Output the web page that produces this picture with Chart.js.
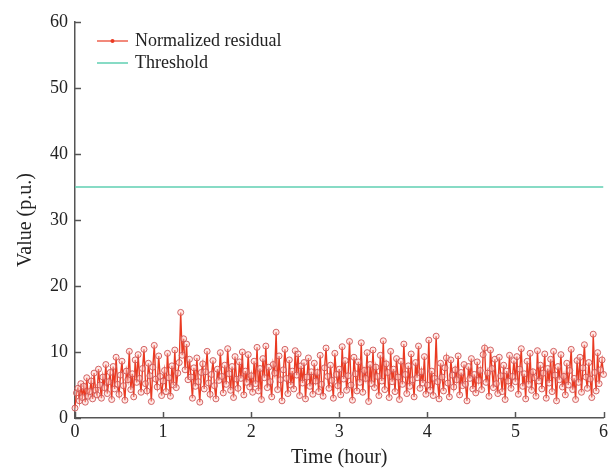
<!DOCTYPE html>
<html>
<head>
<meta charset="utf-8">
<script src="https://cdn.jsdelivr.net/npm/chart.js@4"></script>
<style>
  html, body { margin: 0; padding: 0; background: #fff; }
  #wrap { width: 611px; height: 471px; }
</style>
</head>
<body>
<div id="wrap"><canvas id="c" width="611" height="471"></canvas></div>
<script>
// Normalized residual, one sample per minute, split per hour
const residualH0 = [1.5, 3.8, 4.5, 2.6, 5.2, 3.1, 4.8, 2.4, 6.1, 3.3, 4.0, 5.6, 2.9, 6.8, 4.2, 3.5, 7.4, 5.0, 3.0, 6.2, 4.6, 8.1, 3.7, 5.5, 6.9, 2.8, 7.8, 4.4, 9.2, 5.1, 3.6, 6.5, 8.6, 4.9, 2.7, 7.1, 5.8, 10.1, 4.3, 6.7, 3.2, 8.8, 5.4, 9.6, 6.0, 3.9, 7.5, 10.4, 5.2, 4.1, 8.3, 6.4, 2.5, 7.7, 11.0, 5.9, 4.7, 9.4, 6.3, 3.4];
const residualH1 = [5.6, 7.2, 4.0, 9.8, 6.1, 3.3, 7.9, 5.0, 10.3, 4.6, 6.8, 8.4, 16.0, 9.5, 12.0, 7.3, 11.2, 5.8, 8.9, 6.2, 3.0, 7.6, 4.8, 9.1, 5.5, 2.4, 6.9, 8.2, 4.4, 7.0, 10.1, 5.3, 3.6, 6.6, 8.7, 4.9, 2.9, 7.4, 5.7, 9.9, 6.3, 3.8, 8.0, 5.1, 10.5, 6.7, 4.2, 7.8, 3.1, 9.3, 5.9, 4.5, 8.5, 6.0, 10.0, 3.5, 7.1, 5.4, 9.6, 4.7];
const residualH2 = [6.4, 3.9, 8.6, 5.2, 10.7, 4.1, 7.5, 2.8, 9.0, 6.1, 10.9, 4.6, 7.7, 5.5, 3.2, 8.1, 6.8, 13.0, 4.3, 9.4, 5.8, 2.6, 7.3, 10.4, 6.0, 3.7, 8.8, 5.0, 7.1, 4.4, 10.2, 6.5, 9.7, 3.4, 7.9, 5.3, 8.4, 2.9, 6.2, 9.1, 4.8, 7.0, 3.6, 8.3, 5.6, 6.9, 4.0, 9.5, 5.1, 3.3, 7.6, 10.6, 6.3, 4.5, 8.0, 5.7, 3.0, 9.8, 6.6, 4.9];
const residualH3 = [7.4, 3.5, 10.8, 5.9, 8.7, 4.2, 6.4, 11.6, 5.0, 2.7, 9.2, 6.7, 4.1, 8.5, 5.4, 11.4, 3.9, 7.2, 6.0, 9.9, 2.5, 8.1, 5.2, 10.3, 4.6, 7.7, 6.3, 3.4, 9.5, 5.6, 11.7, 4.3, 8.2, 6.9, 3.1, 10.1, 5.5, 7.4, 4.0, 9.0, 6.2, 2.8, 8.6, 5.1, 11.2, 6.6, 3.7, 7.9, 4.8, 9.7, 5.8, 3.2, 8.4, 6.1, 10.9, 4.5, 7.0, 5.3, 9.3, 3.6];
const residualH4 = [5.0, 11.8, 4.2, 7.1, 3.4, 6.0, 12.4, 5.5, 2.9, 8.3, 6.2, 4.1, 7.6, 9.1, 5.3, 3.2, 8.8, 6.5, 4.7, 7.3, 5.8, 9.4, 3.5, 6.9, 4.9, 8.1, 5.1, 2.6, 7.8, 6.0, 9.0, 4.4, 6.6, 3.8, 8.5, 5.7, 7.2, 4.3, 9.6, 10.6, 5.4, 6.8, 3.3, 10.3, 7.5, 4.6, 8.9, 5.2, 3.7, 9.2, 6.4, 4.0, 8.0, 2.8, 7.1, 5.6, 9.5, 4.5, 6.3, 8.7];
const residualH5 = [5.5, 9.3, 3.6, 7.4, 10.5, 4.8, 6.7, 2.9, 8.6, 5.1, 9.8, 4.2, 7.0, 6.1, 3.3, 10.2, 5.6, 8.0, 4.4, 6.8, 9.7, 3.0, 7.5, 5.3, 8.9, 4.0, 10.1, 6.5, 2.6, 7.8, 5.8, 9.6, 4.7, 6.3, 3.5, 8.3, 5.0, 7.2, 10.4, 4.3, 6.0, 2.8, 8.7, 5.4, 9.2, 3.9, 7.6, 11.1, 6.2, 4.5, 8.4, 5.9, 3.1, 12.7, 6.9, 4.1, 9.9, 5.2, 7.3, 8.8, 6.6];
const thresholdValue = 35;
const timeRange = [0, 6];        // hours
const xTicks = [0, 1, 2, 3, 4, 5, 6];
const yTicks = [0, 10, 20, 30, 40, 50, 60];
const seriesNames = ['Normalized residual', 'Threshold'];
const samplesPerHour = 60;

const residual = [].concat(residualH0, residualH1, residualH2, residualH3, residualH4, residualH5);
const residualPts = residual.map((v, i) => ({ x: i / samplesPerHour, y: v }));
const thresholdPts = [{ x: timeRange[0], y: thresholdValue }, { x: timeRange[1], y: thresholdValue }];

const RED = '#ea3a22';
const TEAL = '#5fcfb2';
const AXIS = '#555555';
const FONT = "'Liberation Serif', 'Times New Roman', serif";

const inwardTicks = {
  id: 'inwardTicks',
  afterDraw(chart) {
    const ctx = chart.ctx, xs = chart.scales.x, ys = chart.scales.y;
    ctx.save();
    ctx.strokeStyle = AXIS; ctx.lineWidth = 1.5;
    xTicks.forEach(t => {
      const px = Math.round(xs.getPixelForValue(t)) + 0.5;
      ctx.beginPath(); ctx.moveTo(px, ys.bottom); ctx.lineTo(px, ys.bottom - 6); ctx.stroke();
    });
    yTicks.forEach(t => {
      const py = Math.round(ys.getPixelForValue(t)) + 0.5;
      ctx.beginPath(); ctx.moveTo(xs.left, py); ctx.lineTo(xs.left + 6, py); ctx.stroke();
    });
    ctx.restore();
  }
};

const customLegend = {
  id: 'customLegend',
  afterDraw(chart) {
    const ctx = chart.ctx;
    ctx.save();
    ctx.font = '18px ' + FONT;
    ctx.fillStyle = '#222';
    ctx.textBaseline = 'middle';
    const x0 = 97, x1 = 128, tx = 135;
    const rows = [41, 63];
    ctx.strokeStyle = RED; ctx.lineWidth = 1.2;
    ctx.beginPath(); ctx.moveTo(x0, rows[0]); ctx.lineTo(x1, rows[0]); ctx.stroke();
    ctx.fillStyle = RED;
    ctx.beginPath(); ctx.arc((x0 + x1) / 2, rows[0], 2, 0, Math.PI * 2); ctx.fill();
    ctx.fillStyle = '#222';
    ctx.fillText(seriesNames[0], tx, rows[0]);
    ctx.strokeStyle = TEAL; ctx.lineWidth = 1.5;
    ctx.beginPath(); ctx.moveTo(x0, rows[1]); ctx.lineTo(x1, rows[1]); ctx.stroke();
    ctx.fillText(seriesNames[1], tx, rows[1]);
    ctx.restore();
  }
};

new Chart(document.getElementById('c'), {
  type: 'line',
  data: {
    datasets: [
      {
        label: seriesNames[0],
        data: residualPts,
        borderColor: RED,
        borderWidth: 1.4,
        pointRadius: 3,
        pointBorderWidth: 1,
        pointBorderColor: 'rgba(205,85,85,0.9)',
        pointBackgroundColor: 'rgba(255,200,195,0.4)',
        tension: 0,
        clip: false
      },
      {
        label: seriesNames[1],
        data: thresholdPts,
        borderColor: TEAL,
        borderWidth: 1.6,
        pointRadius: 0,
        tension: 0
      }
    ]
  },
  options: {
    responsive: false,
    animation: false,
    events: [],
    layout: { padding: { left: 0, right: 5, top: 22, bottom: 0 } },
    plugins: { legend: { display: false }, tooltip: { enabled: false } },
    scales: {
      x: {
        type: 'linear',
        min: timeRange[0], max: timeRange[1],
        afterBuildTicks(s) { s.ticks = xTicks.map(v => ({ value: v })); },
        afterFit(s) { s.height = 53; },
        grid: { display: true, drawOnChartArea: false, drawTicks: false },
        border: { display: true, color: AXIS, width: 1.5 },
        ticks: { color: '#222', font: { family: FONT, size: 18 }, padding: 3, maxRotation: 0 },
        title: { display: true, text: 'Time (hour)', color: '#222', font: { family: FONT, size: 20 }, padding: { top: 0, bottom: 1 } }
      },
      y: {
        type: 'linear',
        min: 0, max: 60,
        afterBuildTicks(s) { s.ticks = yTicks.map(v => ({ value: v })); },
        afterFit(s) { s.width = 75; },
        grid: { display: true, drawOnChartArea: false, drawTicks: false },
        border: { display: true, color: AXIS, width: 1.5 },
        ticks: { color: '#222', font: { family: FONT, size: 18 }, padding: 7 },
        title: { display: true, text: 'Value (p.u.)', color: '#222', font: { family: FONT, size: 20 }, padding: { top: 14, bottom: 0 } }
      }
    }
  },
  plugins: [inwardTicks, customLegend]
});
</script>
</body>
</html>
